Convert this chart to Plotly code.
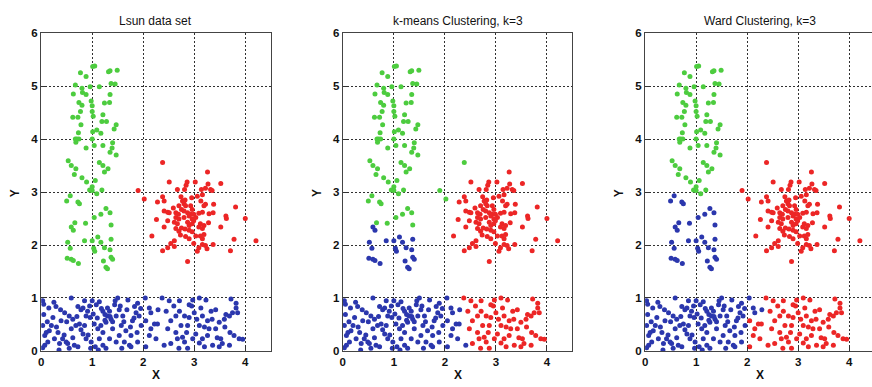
import plotly.graph_objects as go

# ---------------- data ----------------
# bottom rectangle, blue in every panel
band_blue_x = [0.03,0.05,0.15,0.23,0.03,0.10,0.16,0.07,0.03,0.07,0.20,0.29,0.33,0.42,0.46,0.49,0.52,0.59,0.55,0.62,
               0.72,0.78,0.82,0.68,0.75,0.85,0.65,0.72,0.88,0.82,0.96,0.98,0.97,1.00,0.91,0.39,0.26,0.36,0.13,0.59,0.88,
               1.08,1.14,1.21,1.30,1.34,1.37,1.27,1.17,1.11,1.04,1.21,1.40,1.50,1.44,1.53,1.57,1.66,1.63,1.73,1.76,
               1.47,1.34,1.21,1.14,1.06,1.83,1.89,1.86,1.92,1.70,1.79,1.96,1.60,1.47,1.27,1.53,1.76,1.89,1.30,1.25,1.35,
               0.05,0.12,0.25,0.30,0.38,0.45,0.50,0.55,0.62,0.70,0.78,0.85,0.92,0.95,1.02,1.10,1.18,1.25,1.40,1.45,
               1.55,1.62,1.68,1.75,1.82,1.88,1.95,1.58,1.12,0.35,
               2.04,2.12,2.15,2.29]
band_blue_y = [0.95,0.69,0.81,0.63,0.48,0.35,0.38,0.29,0.06,0.11,0.48,0.84,0.35,0.23,0.72,0.17,0.14,1.00,0.66,0.60,
               0.84,0.78,0.81,0.48,0.51,0.48,0.11,0.08,0.23,0.32,0.63,0.17,0.05,0.95,0.75,0.57,0.23,0.14,0.17,0.42,0.66,
               0.87,0.93,0.75,0.66,0.75,0.60,0.54,0.48,0.42,0.51,0.35,0.42,1.00,0.87,0.78,0.48,0.38,0.17,0.11,0.08,
               0.17,0.23,0.11,0.23,0.08,0.84,0.90,0.72,0.66,0.96,0.57,0.48,0.66,0.66,0.05,0.29,0.29,0.17,0.81,0.69,0.65,
               0.88,0.55,0.92,0.45,0.78,0.30,0.55,0.05,0.25,0.65,0.40,0.95,0.30,0.85,0.70,0.62,0.80,0.58,0.55,0.95,
               0.85,0.55,0.78,0.45,0.62,0.35,0.80,0.05,0.02,0.02,
               1.00,0.81,0.72,0.78]
# bottom rectangle, blue in data and k-means, red in Ward
band_mid_x = [2.05,2.22,2.28,2.12,2.05,2.25,2.15,2.41]
band_mid_y = [0.57,0.51,0.51,0.29,0.08,0.23,0.42,0.11]
# bottom rectangle, blue in data, red in k-means and Ward
band_right_x = [2.37,2.51,2.71,2.97,3.10,3.23,3.72,2.48,2.54,2.64,2.71,2.74,2.77,2.67,2.87,2.81,2.87,2.90,3.00,2.97,
                3.03,3.10,3.13,3.16,3.26,3.33,3.29,3.16,3.20,3.36,3.42,3.49,3.52,3.59,3.62,3.55,3.69,3.75,3.82,3.82,
                3.85,3.78,3.88,3.95,2.90,3.42,2.64,2.54,3.69,3.49,2.81,3.26,
                2.45,2.60,2.85,2.95,3.05,3.20,3.35,3.45,3.60,3.70,3.10,2.70]
band_right_y = [1.00,0.95,0.95,0.96,1.00,0.96,0.98,0.42,0.57,0.66,0.75,0.48,0.26,0.23,0.05,0.17,0.48,0.63,0.72,0.23,
                0.32,0.48,0.81,0.66,0.57,0.75,0.42,0.23,0.08,0.11,0.42,0.54,0.23,0.60,0.69,0.14,0.66,0.72,0.90,0.81,
                0.72,0.29,0.23,0.22,0.87,0.78,0.35,0.14,0.11,0.08,0.66,0.29,
                0.75,0.85,0.35,0.85,0.60,0.45,0.60,0.25,0.45,0.35,0.15,0.05]
# vertical strip, upper part: green everywhere
strip_hi_x = [1.01,1.05,1.32,1.35,1.49,0.77,0.88,0.67,0.80,0.96,1.14,1.37,1.45,0.63,0.81,0.88,1.35,0.74,0.80,0.98,
              1.00,1.24,1.34,0.62,0.72,0.77,1.00,1.02,1.21,1.19,1.28,0.78,1.09,1.17,1.01,1.47,1.43,0.73,0.67,0.74,
              0.68,1.00,1.04,1.21,0.88,1.40,1.39,1.35,1.47,0.53,0.59,1.14,1.21,1.24,1.31,0.68,0.65,0.80,0.89,1.06,
              1.00,0.95,1.09,1.19,0.70,1.00]
strip_hi_y = [5.37,5.38,5.27,5.29,5.30,5.25,5.18,5.02,4.96,4.99,4.99,5.05,5.04,4.85,4.88,4.84,4.84,4.69,4.64,4.72,
              4.63,4.68,4.69,4.41,4.41,4.52,4.52,4.43,4.46,4.33,4.33,4.27,4.17,4.11,4.14,4.27,4.19,4.12,4.00,4.00,
              3.94,4.00,3.88,3.88,3.83,3.93,3.83,3.75,3.70,3.59,3.50,3.56,3.50,3.38,3.44,3.44,3.33,3.27,3.19,3.22,
              3.10,3.04,2.97,3.04,4.00,3.03]
# vertical strip, middle part: green in data and k-means, blue in Ward
strip_mid_x = [0.57,0.50,0.72,0.75,1.27,1.35,1.17,1.04,0.66,0.87,1.37]
strip_mid_y = [2.93,2.83,2.81,2.78,2.69,2.61,2.58,2.52,2.42,2.41,2.38]
# vertical strip, lower part: green in data, blue in k-means and Ward
strip_lo_x = [0.59,0.63,1.11,1.17,1.00,0.85,0.52,0.57,1.03,1.05,1.24,1.37,1.35,0.51,0.59,0.63,0.73,1.22,1.37,1.40,1.27,1.30]
strip_lo_y = [2.34,2.28,2.15,2.05,2.08,2.08,2.05,1.94,1.94,1.88,1.95,2.11,1.91,1.75,1.73,1.71,1.65,1.70,1.77,1.73,1.58,1.55]
# round blob: red everywhere
blob_x = [3.26,2.51,2.86,2.84,3.02,3.27,3.32,3.52,2.67,2.81,3.14,3.22,3.35,2.41,2.28,2.74,2.77,2.82,2.95,3.06,
          3.16,3.13,3.22,3.19,2.59,2.70,2.75,2.80,2.83,2.93,2.96,3.38,3.81,2.41,2.48,2.51,2.64,2.69,2.80,2.87,
          2.93,3.09,3.16,3.29,3.37,2.64,2.70,2.80,2.90,2.96,2.99,3.03,3.62,3.63,2.26,2.48,2.61,2.67,2.87,2.90,
          2.96,2.99,3.12,3.19,3.28,4.00,2.41,2.64,2.75,2.82,2.90,3.09,3.16,3.52,2.70,2.73,2.96,3.03,3.12,3.19,
          3.16,2.17,2.83,2.90,2.61,2.54,2.99,3.16,3.22,3.37,3.78,4.21,2.48,2.38,2.61,3.09,3.06,3.25,3.71,2.87,2.38]
blob_y = [3.38,3.19,3.19,3.13,3.19,3.15,3.05,3.16,3.05,3.05,3.05,3.07,3.03,2.83,2.81,2.91,2.83,2.85,2.89,2.92,
          2.95,2.83,2.77,2.74,2.70,2.74,2.67,2.78,2.74,2.74,2.67,2.77,2.72,2.64,2.62,2.61,2.61,2.58,2.64,2.61,
          2.58,2.60,2.62,2.59,2.61,2.52,2.49,2.52,2.55,2.49,2.58,2.52,2.55,2.50,2.48,2.46,2.43,2.40,2.43,2.37,
          2.40,2.46,2.40,2.37,2.42,2.50,2.34,2.31,2.32,2.30,2.28,2.34,2.31,2.34,2.26,2.19,2.25,2.17,2.17,2.20,
          2.12,2.17,2.16,2.12,2.08,2.03,2.03,2.01,1.99,2.01,2.11,2.08,1.95,1.89,1.97,1.95,1.88,1.93,1.89,1.69,2.91]
# blob edge: red in data and Ward, green in k-means
blob_edge_x = [1.90,2.02,2.38]
blob_edge_y = [3.03,2.87,3.56]

titles = ["Lsun data set", "k-means Clustering, k=3", "Ward Clustering, k=3"]
tick_vals_x = [0, 1, 2, 3, 4]
tick_vals_y = [0, 1, 2, 3, 4, 5, 6]

# colour of each group in each panel
groups = [(band_blue_x, band_blue_y), (band_mid_x, band_mid_y), (band_right_x, band_right_y),
          (strip_hi_x, strip_hi_y), (strip_mid_x, strip_mid_y), (strip_lo_x, strip_lo_y),
          (blob_x, blob_y), (blob_edge_x, blob_edge_y)]
panel_labels = [
    ["B", "B", "B", "G", "G", "G", "R", "R"],
    ["B", "B", "R", "G", "G", "B", "R", "G"],
    ["B", "R", "R", "G", "B", "B", "R", "R"],
]
COL = {"B": "#2b37ad", "G": "#4dcc3f", "R": "#ec2626"}

# ---------------- figure ----------------
W, H = 872, 387
fig = go.Figure()
lefts = [38.3, 341.0, 644.3]
unit = 51.2
top_px, bot_px = 28.0, 356.0
FONT = "Liberation Sans, Arial, sans-serif"

for p in range(3):
    ax = "" if p == 0 else str(p + 1)
    for col in ["B", "G", "R"]:
        xs, ys = [], []
        for g, lab in zip(groups, panel_labels[p]):
            if lab == col:
                xs += g[0]
                ys += g[1]
        fig.add_trace(go.Scatter(x=xs, y=ys, mode="markers", xaxis="x" + ax, yaxis="y" + ax,
                                 marker=dict(size=5, color=COL[col], line=dict(width=0)),
                                 showlegend=False, hoverinfo="skip"))
    left = lefts[p]
    right = min(left + 4.5 * unit, W)
    xmax = (right - left) / unit
    dom_x = [left / W, right / W]
    dom_y = [1 - bot_px / H, 1 - top_px / H]
    common = dict(showgrid=True, gridcolor="#303030", gridwidth=1, griddash="2px,2px",
                  zeroline=False, showline=True, linecolor="#444444", linewidth=1.4,
                  ticks="inside", ticklen=4, tickcolor="#333333",
                  tickfont=dict(family=FONT, size=11.5, color="#111111", weight="bold"))
    fig.update_layout(**{
        "xaxis" + ax: dict(domain=dom_x, range=[0, xmax], tickvals=tick_vals_x, anchor="y" + ax,
                           mirror=True, **common),
        "yaxis" + ax: dict(domain=dom_y, range=[0, 6], tickvals=tick_vals_y, anchor="x" + ax,
                           mirror=(p < 2), **common),
    })
    cx = (left + left + 4.5 * unit) / 2 / W
    fig.add_annotation(text=titles[p], x=cx, y=1 - 15 / H, xref="paper", yref="paper",
                       showarrow=False, font=dict(family=FONT, size=12, color="#111111"),
                       xanchor="center", yanchor="middle")
    fig.add_annotation(text="X", x=cx, y=1 - 381 / H, xref="paper", yref="paper",
                       showarrow=False, font=dict(family=FONT, size=12, color="#111111", weight="bold"),
                       xanchor="center", yanchor="middle")
    fig.add_annotation(text="Y", x=(left - 26) / W, y=1 - 193 / H, xref="paper", yref="paper",
                       showarrow=False, textangle=-90,
                       font=dict(family=FONT, size=12, color="#111111", weight="bold"),
                       xanchor="center", yanchor="middle")

fig.update_layout(width=W, height=H, margin=dict(l=0, r=0, t=0, b=0),
                  paper_bgcolor="white", plot_bgcolor="white")
fig.write_html("out.html")
